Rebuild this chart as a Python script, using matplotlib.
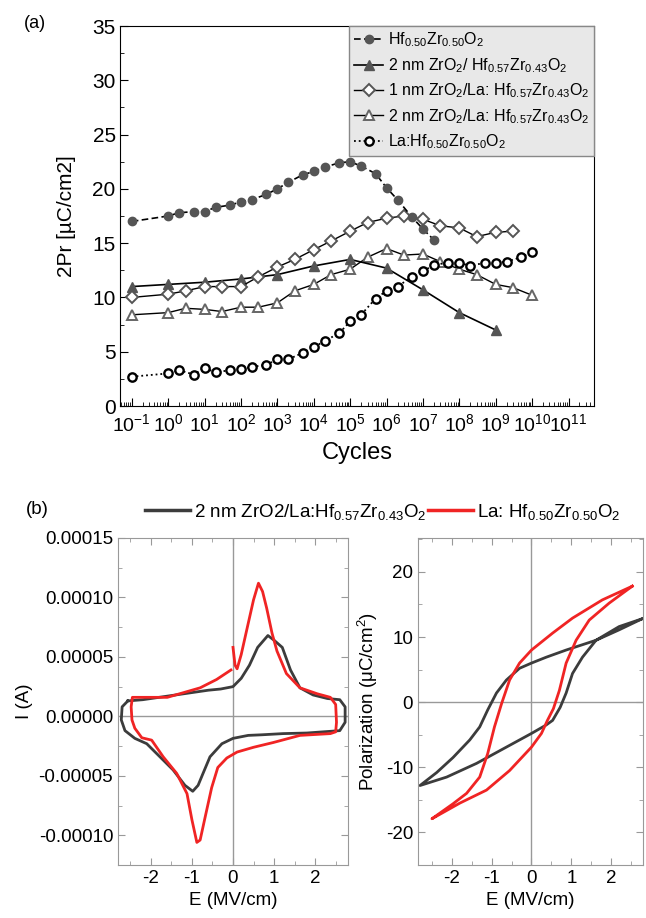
import numpy as np
import matplotlib
matplotlib.use("Agg")
import matplotlib.pyplot as plt
from matplotlib.ticker import LogLocator, MultipleLocator, FuncFormatter, NullFormatter, FixedLocator
from matplotlib.lines import Line2D

plt.rcParams['font.family'] = ['Liberation Sans', 'DejaVu Sans']
plt.rcParams['mathtext.fontset'] = 'custom'
plt.rcParams['mathtext.rm'] = 'Liberation Sans'
plt.rcParams['mathtext.it'] = 'Liberation Sans'
plt.rcParams['mathtext.default'] = 'regular'
plt.rcParams['axes.unicode_minus'] = False

# ---------------- (a) endurance data ----------------
cyc_a = [0.1, 1, 2, 5, 10, 20, 50, 100, 200, 500, 1e3, 2e3, 5e3, 1e4, 2e4, 5e4,
         1e5, 2e5, 5e5, 1e6, 2e6, 5e6, 1e7, 2e7]
pr_hzo = [17.0, 17.5, 17.8, 17.9, 17.9, 18.3, 18.5, 18.8, 19.0, 19.5, 20.0, 20.6,
          21.3, 21.6, 22.0, 22.4, 22.5, 22.1, 21.4, 20.1, 19.0, 17.4, 16.3, 15.3]

cyc_b = [0.1, 1, 10, 100, 1e3, 1e4, 1e5, 1e6, 1e7, 1e8, 1e9]
pr_2zr_hzo = [11.0, 11.2, 11.4, 11.7, 12.1, 12.9, 13.5, 12.7, 10.7, 8.6, 7.0]

cyc_c = [0.1, 1, 3, 10, 30, 100, 300, 1e3, 3e3, 1e4, 3e4, 1e5, 3e5, 1e6, 3e6,
         1e7, 3e7, 1e8, 3e8, 1e9, 3e9]
pr_1zr_la = [10.0, 10.3, 10.6, 11.0, 11.0, 11.0, 11.9, 12.8, 13.5, 14.4, 15.2,
             16.1, 16.9, 17.3, 17.5, 17.2, 16.6, 16.4, 15.6, 16.0, 16.1]

cyc_d = [0.1, 1, 3, 10, 30, 100, 300, 1e3, 3e3, 1e4, 3e4, 1e5, 3e5, 1e6, 3e6,
         1e7, 3e7, 1e8, 3e8, 1e9, 3e9, 1e10]
pr_2zr_la = [8.4, 8.6, 9.0, 8.9, 8.7, 9.1, 9.1, 9.5, 10.6, 11.2, 12.1, 12.6,
             13.7, 14.5, 13.9, 14.0, 13.3, 12.6, 12.1, 11.2, 10.9, 10.2]

cyc_e = [0.1, 1, 2, 5, 10, 20, 50, 100, 200, 500, 1e3, 2e3, 5e3, 1e4, 2e4, 5e4,
         1e5, 2e5, 5e5, 1e6, 2e6, 5e6, 1e7, 2e7, 5e7, 1e8, 2e8, 5e8, 1e9, 2e9, 5e9, 1e10]
pr_la_hzo = [2.7, 3.0, 3.3, 2.9, 3.5, 3.1, 3.3, 3.4, 3.6, 3.8, 4.3, 4.3, 4.9, 5.4,
             6.0, 6.7, 7.8, 8.4, 9.9, 10.6, 11.0, 11.9, 12.4, 13.0, 13.2, 13.2,
             12.9, 13.2, 13.2, 13.3, 13.7, 14.2]

labels_a = [r'Hf$_{0.50}$Zr$_{0.50}$O$_2$',
            r'2 nm ZrO$_2$/ Hf$_{0.57}$Zr$_{0.43}$O$_2$',
            r'1 nm ZrO$_2$/La: Hf$_{0.57}$Zr$_{0.43}$O$_2$',
            r'2 nm ZrO$_2$/La: Hf$_{0.57}$Zr$_{0.43}$O$_2$',
            r'La:Hf$_{0.50}$Zr$_{0.50}$O$_2$']
decades = list(range(-1, 12))

# ---------------- (b) I-E loops ----------------
E_gray_ie = [-2.56, -2.2, -1.8, -1.4, -1.0, -0.6, -0.3, 0.0, 0.2, 0.4, 0.6, 0.85, 1.0,
             1.2, 1.4, 1.63, 1.95, 2.3, 2.6, 2.73, 2.73, 2.6, 2.2, 1.8, 1.22, 0.7,
             0.37, 0.0, -0.27, -0.56, -0.73, -0.85, -0.98, -1.17, -1.46, -1.78,
             -2.1, -2.39, -2.63, -2.72, -2.7, -2.56]
I_gray_ie = [1.3e-5, 1.4e-5, 1.6e-5, 1.8e-5, 2.0e-5, 2.2e-5, 2.3e-5, 2.5e-5, 3.2e-5,
             4.3e-5, 5.8e-5, 6.8e-5, 6.4e-5, 5.8e-5, 3.9e-5, 2.4e-5, 1.8e-5, 1.5e-5,
             1.4e-5, 0.8e-5, -0.5e-5, -1.2e-5, -1.3e-5, -1.4e-5, -1.45e-5, -1.55e-5,
             -1.6e-5, -1.85e-5, -2.3e-5, -3.4e-5, -4.8e-5, -5.8e-5, -6.3e-5, -5.8e-5,
             -4.5e-5, -3.4e-5, -2.3e-5, -1.85e-5, -1.2e-5, -0.3e-5, 0.8e-5, 1.3e-5]

E_red_ie = [0.0, 0.05, 0.1, 0.2, 0.33, 0.5, 0.62, 0.72, 0.82, 0.95, 1.07, 1.3, 1.63,
            2.05, 2.37, 2.5, 2.52, 2.5, 2.37, 1.63, 0.98, 0.5, 0.1, -0.15, -0.37,
            -0.52, -0.68, -0.8, -0.88, -1.0, -1.12, -1.37, -1.7, -1.98, -2.22, -2.39,
            -2.46, -2.48, -2.45, -2.0, -1.6, -1.2, -0.8, -0.4, -0.05]
I_red_ie = [5.8e-5, 4.3e-5, 4.0e-5, 5.2e-5, 7.2e-5, 9.8e-5, 1.12e-4, 1.05e-4, 9.1e-5,
            7.0e-5, 5.5e-5, 3.6e-5, 2.4e-5, 1.9e-5, 1.6e-5, 1.0e-5, -0.5e-5, -1.3e-5,
            -1.45e-5, -1.6e-5, -2.2e-5, -2.6e-5, -3.0e-5, -3.5e-5, -4.3e-5, -6.0e-5,
            -8.5e-5, -1.04e-4, -1.06e-4, -8.7e-5, -6.5e-5, -4.8e-5, -3.4e-5, -2.0e-5,
            -1.8e-5, -1.0e-5, -0.3e-5, 0.8e-5, 1.6e-5, 1.6e-5, 1.6e-5, 2.0e-5, 2.4e-5,
            3.1e-5, 3.9e-5]

# ---------------- (b) P-E loops ----------------
E_gray_pe = [2.78, 2.2, 1.62, 0.87, 0.37, 0.0, -0.3, -0.63, -0.88, -1.1, -1.3, -1.55,
             -1.97, -2.38, -2.8, -2.13, -1.38, -0.63, 0.0, 0.37, 0.53, 0.72, 0.87,
             1.03, 1.28, 1.62, 2.2, 2.78]
P_gray_pe = [12.8, 11.1, 9.5, 8.0, 6.9, 6.0, 5.2, 3.4, 1.4, -1.2, -3.8, -5.8, -8.5,
             -10.8, -12.8, -11.5, -9.4, -6.9, -4.8, -3.5, -2.8, -0.8, 1.4, 4.4, 6.9,
             9.5, 11.6, 12.8]

E_red_pe = [2.53, 1.78, 1.03, 0.53, 0.0, -0.3, -0.55, -0.75, -0.93, -1.1, -1.3, -1.63,
            -1.97, -2.5, -1.8, -1.13, -0.55, 0.0, 0.25, 0.4, 0.55, 0.7, 0.87, 1.12,
            1.45, 1.95, 2.53]
P_red_pe = [17.8, 15.7, 12.9, 10.6, 8.0, 6.0, 3.4, -0.2, -3.8, -7.9, -11.5, -14.0,
            -15.6, -17.9, -15.5, -13.5, -10.5, -6.9, -4.8, -2.8, -1.0, 1.8, 6.0, 9.5,
            12.6, 15.2, 17.8]

labels_b = [r'2 nm ZrO2/La:Hf$_{0.57}$Zr$_{0.43}$O$_2$', r'La: Hf$_{0.50}$Zr$_{0.50}$O$_2$']
gray_c = '#3c3c3c'
red_c = '#f02424'

W, H = 646, 918
fig = plt.figure(figsize=(W / 100, H / 100), dpi=100)

def frac(l, t, r, b):
    return [l / W, 1 - b / H, (r - l) / W, (b - t) / H]

# ---------------- panel (a) ----------------
ax = fig.add_axes(frac(120.5, 26, 594, 406))
mk = '#555555'
ax.plot(cyc_a, pr_hzo, linestyle=(0, (4, 2)), color='black', lw=1.2, marker='o',
        ms=6, mfc=mk, mec=mk, label=labels_a[0], zorder=5)
ax.plot(cyc_b, pr_2zr_hzo, '-', color='black', lw=1.2, marker='^', ms=7.5,
        mfc=mk, mec=mk, label=labels_a[1], zorder=4)
ax.plot(cyc_c, pr_1zr_la, '-', color='black', lw=1.0, marker='D', ms=6,
        mfc='white', mec=mk, mew=1.4, label=labels_a[2], zorder=4)
ax.plot(cyc_d, pr_2zr_la, '-', color='black', lw=1.0, marker='^', ms=7.5,
        mfc='white', mec='#666666', mew=1.4, label=labels_a[3], zorder=3)
ax.plot(cyc_e, pr_la_hzo, ':', color='black', lw=1.3, marker='o', ms=6,
        mfc='white', mec='black', mew=1.7, label=labels_a[4], zorder=3)
ax.set_xscale('log')
ax.set_xlim(10 ** -1.31, 10 ** 11.7)
ax.set_ylim(0, 35)
ax.xaxis.set_major_locator(FixedLocator([10.0 ** k for k in decades]))
ax.xaxis.set_minor_locator(LogLocator(base=10, subs=np.arange(2, 10), numticks=30))
ax.xaxis.set_minor_formatter(NullFormatter())
ax.set_xticks([10.0 ** k for k in decades])
ax.set_xticklabels(['10$^{%s}$' % ('-1' if k < 0 else str(k)) for k in decades])
ax.yaxis.set_major_locator(MultipleLocator(5))
ax.yaxis.set_minor_locator(MultipleLocator(2.5))
ax.tick_params(which='both', direction='in', labelsize=15)
ax.tick_params(axis='x', labelsize=14)
ax.tick_params(which='major', length=6)
ax.tick_params(which='minor', length=3)
ax.tick_params(axis='x', pad=5)
ax.set_xlabel('Cycles', fontsize=17, labelpad=5)
ax.set_ylabel('2Pr [µC/cm2]', fontsize=15, labelpad=12)
leg = ax.legend(loc='upper right', bbox_to_anchor=(1.0, 1.0), fontsize=11.5,
                frameon=True, fancybox=False, facecolor='#e8e8e8', edgecolor='#888888',
                framealpha=1, handlelength=1.8, handletextpad=0.3, labelspacing=0.42,
                borderpad=0.3, borderaxespad=0.0)
fig.text(35 / W, 1 - 23 / H, '(a)', fontsize=13, ha='center', va='center')

# ---------------- panel (b) left ----------------
spc = '#999999'
axl = fig.add_axes(frac(118, 538, 348, 865))
axl.axhline(0, color='#999999', lw=1)
axl.axvline(0, color='#999999', lw=1)
axl.plot(E_gray_ie, I_gray_ie, color=gray_c, lw=2)
axl.plot(E_red_ie, I_red_ie, color=red_c, lw=2)
axl.set_xlim(-2.8, 2.8)
axl.set_ylim(-0.000125, 0.00015)
axl.xaxis.set_major_locator(MultipleLocator(1))
axl.xaxis.set_minor_locator(MultipleLocator(0.5))
axl.yaxis.set_major_locator(MultipleLocator(0.00005))
axl.yaxis.set_minor_locator(MultipleLocator(0.000025))
axl.yaxis.set_major_formatter(FuncFormatter(lambda v, p: '%.5f' % (0.0 if abs(v) < 1e-12 else v)))
axl.set_xlabel('E (MV/cm)', fontsize=13.5)
axl.set_ylabel('I (A)', fontsize=13.5, labelpad=4)

# ---------------- panel (b) right ----------------
axr = fig.add_axes(frac(418, 538, 643, 865))
axr.axhline(0, color='#999999', lw=1)
axr.axvline(0, color='#999999', lw=1)
axr.plot(E_gray_pe, P_gray_pe, color=gray_c, lw=2)
axr.plot(E_red_pe, P_red_pe, color=red_c, lw=2)
axr.set_xlim(-2.85, 2.8)
axr.set_ylim(-25, 25.2)
axr.xaxis.set_major_locator(MultipleLocator(1))
axr.xaxis.set_minor_locator(MultipleLocator(0.5))
axr.yaxis.set_major_locator(MultipleLocator(10))
axr.yaxis.set_minor_locator(MultipleLocator(5))
axr.set_xlabel('E (MV/cm)', fontsize=13.5)
axr.set_ylabel('Polarization (μC/cm$^2$)', fontsize=13.5, labelpad=4)

for a in (axl, axr):
    for s in a.spines.values():
        s.set_color(spc)
    a.tick_params(which='both', direction='in', top=True, right=True, color=spc,
                  labelsize=13.5)
    a.tick_params(which='major', length=5)
    a.tick_params(which='minor', length=3)

handles = [Line2D([], [], color=gray_c, lw=2.5), Line2D([], [], color=red_c, lw=2.5)]
fig.legend(handles, labels_b, loc='center', bbox_to_anchor=(383 / W, 1 - 512 / H),
           ncol=2, fontsize=13.5, frameon=False, handlelength=2.4, handletextpad=0.2,
           columnspacing=0.1)
fig.text(37 / W, 1 - 509 / H, '(b)', fontsize=13.5, ha='center', va='center')

fig.savefig('out.png', dpi=100)
